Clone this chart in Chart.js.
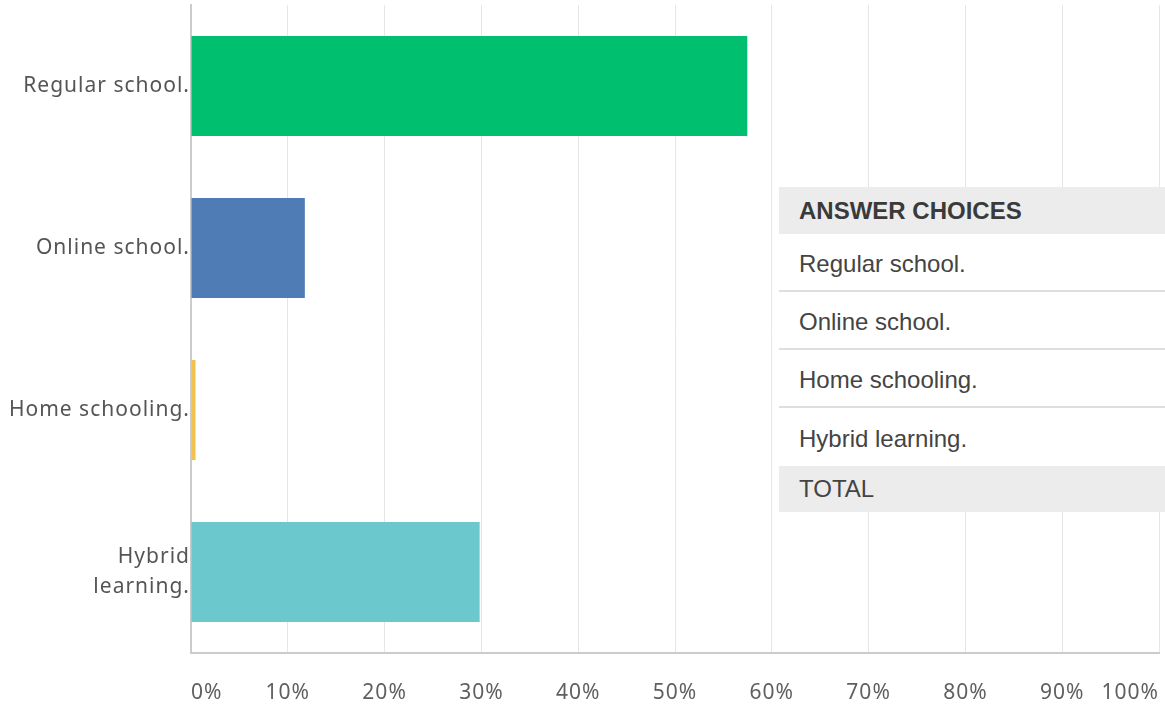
<!DOCTYPE html>
<html>
<head>
<meta charset="utf-8">
<script src="https://cdn.jsdelivr.net/npm/chart.js@4"></script>
<style>
  html, body { margin: 0; padding: 0; background: #fff; overflow: hidden; }
  #wrap { position: relative; width: 1165px; height: 705px; }
  #answers {
    position: absolute; left: 779px; top: 187px; width: 420px;
    background: #fff; font-family: "Liberation Sans", Arial, sans-serif;
    font-size: 24px; color: #444;
  }
  #answers div { box-sizing: border-box; padding-left: 20px; display: flex; align-items: center; }
  #answers .head { background: #ececec; color: #3a3a3a; font-weight: bold; height: 47px; }
  #answers .row { height: 58px; border-bottom: 2px solid #dedede; padding-top: 4px; }
  #answers .row.last { border-bottom: none; }
  #answers .total { background: #ececec; color: #444; height: 46px; }
</style>
</head>
<body>
<div id="wrap">
  <canvas id="SchoolChart" width="1165" height="705"></canvas>
  <div id="answers"></div>
</div>
<script>
// answer choices and share of responses (%)
var categories = ['Regular school.', 'Online school.', 'Home schooling.', 'Hybrid learning.'];
var axisLabels = ['Regular school.', 'Online school.', 'Home schooling.', ['Hybrid', 'learning.']];
var percents = [57.47, 11.76, 0.47, 29.82];
var barColors = ['#00bf6f', '#507cb6', '#f2c14e', '#6bc8cd'];
var xTicks = [0, 10, 20, 30, 40, 50, 60, 70, 80, 90, 100];

// side table
var tbl = document.getElementById('answers');
var html = '<div class="head">ANSWER CHOICES</div>';
for (var i = 0; i < categories.length; i++) {
    html += '<div class="row' + (i == categories.length - 1 ? ' last' : '') + '">' + categories[i] + '</div>';
}
html += '<div class="total">TOTAL</div>';
tbl.innerHTML = html;

/*wider letters, like the survey font*/
var spacing = {
    id: 'spacing',
    beforeDraw: function (chart) { chart.ctx.letterSpacing = '1px'; }
};

const ctx = document.getElementById('SchoolChart');
const SchoolChart = new Chart(ctx, {
    type: 'bar',
    data: {
        labels: axisLabels,
        datasets: [{
            label: '',
            data: percents,
            backgroundColor: barColors,
            borderWidth: 0,
            barPercentage: 0.617,
            categoryPercentage: 1
        }]
    },
    plugins: [spacing],
    options: {
        indexAxis: 'y',
        responsive: false,
        animation: false,
        layout: {
            padding: { top: 5, right: 6, left: 0, bottom: 0 }
        },
        plugins: {
            legend: { display: false },
            tooltip: { enabled: false }
        },
        scales: {
            x: {
                min: 0,
                max: 100,
                afterBuildTicks: function (scale) {
                    scale.ticks = xTicks.map(function (v) { return { value: v }; });
                },
                afterFit: function (scale) {
                    scale.height = 52;
                    scale.paddingLeft = 0;
                    scale.paddingRight = 0;
                },
                grid: {
                    color: '#e6e6e6',
                    drawTicks: false
                },
                border: { color: '#cccccc', width: 2 },
                ticks: {
                    align: 'inner',
                    padding: 27,
                    color: '#5f5f5f',
                    font: { family: 'Noto Sans', size: 21 },
                    callback: function (v) { return v + '%'; }
                }
            },
            y: {
                afterFit: function (scale) {
                    scale.width = 191;
                    scale.paddingTop = 0;
                    scale.paddingBottom = 0;
                },
                grid: { display: false, drawTicks: false },
                border: { color: '#cccccc', width: 2 },
                ticks: {
                    padding: 1,
                    color: '#555',
                    font: { family: 'Noto Sans', size: 21, lineHeight: 1.45 }
                }
            }
        }
    }
});
</script>
</body>
</html>
